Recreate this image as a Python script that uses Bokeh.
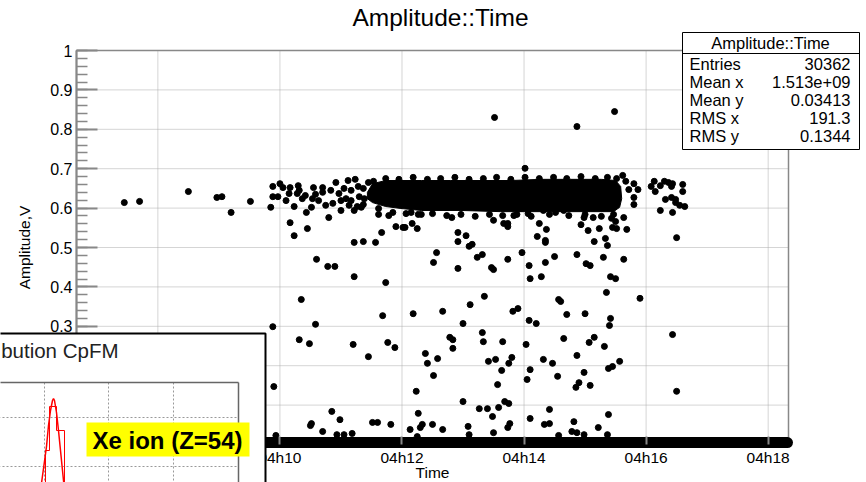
import pandas as pd
from bokeh.plotting import figure
from bokeh.models import (Range1d, FixedTicker, DatetimeTickFormatter, CustomJSTickFormatter,
                          BoxAnnotation, PolyAnnotation, Label)
from bokeh.embed import file_html
from bokeh.resources import INLINE

DATE = "2017-12-11"

# ---------------- data ----------------
x_start, x_end = "04:06:40", "04:18:20"
y_start, y_end = 0.0, 1.0
x_tick_times = ["04:08:00", "04:10:00", "04:12:00", "04:14:00", "04:16:00", "04:18:00"]
y_ticks = [0, 0.1, 0.2, 0.3, 0.4, 0.5, 0.6, 0.7, 0.8, 0.9, 1.0]

# individual events (time, amplitude in V)
pt_time = [
    "04:07:27", "04:07:42", "04:08:30", "04:08:58", "04:09:03", "04:09:12", "04:09:31",
    "04:09:53", "04:09:53", "04:09:51", "04:10:00", "04:10:03", "04:09:58", "04:10:10",
    "04:10:09", "04:10:18", "04:10:17", "04:10:14", "04:10:10", "04:10:14", "04:10:26",
    "04:10:27", "04:10:22", "04:10:25", "04:10:31", "04:10:33", "04:10:35", "04:10:36",
    "04:10:42", "04:10:42", "04:10:47", "04:10:54", "04:10:48", "04:10:52", "04:10:55",
    "04:11:00", "04:11:03", "04:11:07", "04:11:08", "04:11:14", "04:11:13", "04:11:13",
    "04:11:17", "04:11:13", "04:11:20", "04:11:22", "04:11:23", "04:11:27", "04:11:34",
    "04:11:37", "04:11:40", "04:11:44", "04:11:47", "04:11:54", "04:12:01", "04:12:03",
    "04:12:10", "04:12:15", "04:12:16", "04:12:09", "04:12:31", "04:12:34", "04:12:49",
    "04:12:55", "04:12:55", "04:12:55", "04:13:03", "04:13:06", "04:13:09", "04:13:14",
    "04:13:19", "04:13:21", "04:13:28", "04:13:30", "04:13:30", "04:13:44", "04:13:44",
    "04:13:57", "04:13:58", "04:14:01", "04:14:04", "04:14:05", "04:14:06", "04:14:15",
    "04:14:17", "04:14:13", "04:14:21", "04:14:22", "04:14:21", "04:14:30", "04:14:34",
    "04:13:31", "04:14:52", "04:15:29",
    "04:15:37", "04:15:40", "04:15:43", "04:15:48", "04:15:52", "04:15:48", "04:15:48",
    "04:15:38", "04:15:41",
    "04:16:05", "04:16:08", "04:16:14", "04:16:09", "04:16:18", "04:16:22", "04:16:25",
    "04:16:26", "04:16:36", "04:16:36", "04:16:19", "04:16:25", "04:16:29", "04:16:29",
    "04:16:33", "04:16:38", "04:16:14", "04:16:26", "04:16:30",
    "04:13:40", "04:13:44", "04:14:21", "04:14:56", "04:15:03", "04:15:09", "04:15:14",
    "04:15:20", "04:15:22", "04:15:26", "04:15:30", "04:15:27", "04:15:31", "04:14:59",
    "04:15:08", "04:13:50", "04:14:19", "04:14:31", "04:14:39",
    "04:14:52", "04:15:18", "04:15:01", "04:15:05", "04:15:38", "04:15:25", "04:15:30",
    "04:15:21", "04:15:54", "04:14:36", "04:14:42", "04:15:00", "04:15:25", "04:15:24",
    "04:16:26", "04:14:39", "04:15:09", "04:15:04", "04:15:19", "04:14:52", "04:15:34",
    "04:15:23", "04:15:27", "04:14:59", "04:14:54", "04:15:05", "04:14:51", "04:16:30",
    "04:15:23", "04:14:49", "04:15:13", "04:14:47", "04:14:52", "04:14:59", "04:15:22",
    "04:14:19", "04:14:28", "04:14:33", "04:14:25", "04:14:20", "04:14:25", "04:14:34",
    "04:09:53", "04:10:21", "04:10:35", "04:10:19", "04:10:29", "04:11:12", "04:11:41",
    "04:11:46", "04:11:53", "04:11:27", "04:09:54", "04:10:51", "04:10:59", "04:10:30",
    "04:10:31", "04:10:42", "04:10:56", "04:11:03", "04:11:11", "04:11:31", "04:11:36",
    "04:11:49", "04:09:56", "04:12:11", "04:12:40", "04:12:23", "04:12:25", "04:12:35",
    "04:12:31", "04:12:14", "04:12:16", "04:12:18", "04:12:20", "04:12:08", "04:12:30",
    "04:12:40", "04:12:15", "04:12:47", "04:12:50", "04:12:50", "04:13:00", "04:13:07",
    "04:13:00", "04:13:05", "04:13:06", "04:13:19", "04:13:20", "04:13:25", "04:13:32",
    "04:13:38", "04:13:39", "04:13:45", "04:13:48", "04:13:34", "04:13:41", "04:13:45",
    "04:13:16", "04:13:24", "04:13:35", "04:13:29", "04:13:30", "04:13:44", "04:13:46",
    "04:13:49", "04:13:54", "04:14:02", "04:14:05", "04:14:12", "04:14:06", "04:14:03",
    "04:14:06",
    "04:10:38", "04:10:45", "04:10:58", "04:11:05", "04:11:10", "04:11:18", "04:11:22",
    "04:11:00", "04:10:50", "04:10:32", "04:10:19", "04:10:06", "04:11:10", "04:11:16",
    "04:11:22",
    # edge of the dense band
    "04:11:32", "04:11:44", "04:11:57", "04:12:11", "04:12:25", "04:12:38", "04:12:52",
    "04:13:06", "04:13:20", "04:13:33", "04:13:47", "04:14:01", "04:14:15", "04:14:29",
    "04:14:42", "04:14:56", "04:15:10", "04:15:22", "04:15:31",
    "04:11:37", "04:11:51", "04:12:04", "04:12:19", "04:12:30", "04:12:44", "04:12:58",
    "04:13:12", "04:13:26", "04:13:39", "04:13:53", "04:14:07", "04:14:25", "04:14:44",
    "04:15:00", "04:15:16", "04:15:28",
]
pt_amp = [
    0.614, 0.617, 0.642, 0.627, 0.629, 0.589, 0.617,
    0.655, 0.629, 0.602, 0.662, 0.652, 0.629, 0.652,
    0.637, 0.657, 0.637, 0.604, 0.563, 0.530, 0.589,
    0.548, 0.624, 0.632, 0.602, 0.652, 0.635, 0.470,
    0.652, 0.640, 0.452, 0.452, 0.576, 0.612, 0.665,
    0.619, 0.650, 0.670, 0.607, 0.673, 0.513, 0.426,
    0.655, 0.594, 0.602, 0.515, 0.624, 0.665, 0.513,
    0.584, 0.538, 0.411, 0.581, 0.553, 0.551, 0.551,
    0.561, 0.548, 0.584, 0.589, 0.462, 0.487, 0.576,
    0.538, 0.515, 0.447, 0.530, 0.503, 0.508, 0.475,
    0.482, 0.376, 0.449, 0.444, 0.569, 0.470, 0.561,
    0.599, 0.487, 0.701, 0.586, 0.454, 0.421, 0.561,
    0.426, 0.528, 0.518, 0.546, 0.462, 0.477, 0.368,
    0.830, 0.807, 0.845,
    0.683, 0.668, 0.647, 0.662, 0.647, 0.627, 0.609,
    0.576, 0.546,
    0.655, 0.668, 0.657, 0.642, 0.668, 0.665, 0.655,
    0.662, 0.660, 0.642, 0.622, 0.627, 0.622, 0.614,
    0.607, 0.604, 0.594, 0.589, 0.525,
    0.561, 0.553, 0.513, 0.558, 0.543, 0.515, 0.548,
    0.523, 0.505, 0.574, 0.566, 0.551, 0.548, 0.576,
    0.576, 0.581, 0.594, 0.589, 0.594,
    0.482, 0.475, 0.459, 0.454, 0.470, 0.426, 0.421,
    0.386, 0.371, 0.363, 0.330, 0.332, 0.320, 0.302,
    0.279, 0.269, 0.272, 0.259, 0.249, 0.226, 0.211,
    0.193, 0.198, 0.183, 0.157, 0.150, 0.145, 0.135,
    0.076, 0.058, 0.043, 0.033, 0.030, 0.025, 0.025,
    0.216, 0.206, 0.173, 0.089, 0.051, 0.053, 0.023,
    0.299, 0.368, 0.305, 0.266, 0.256, 0.254, 0.327,
    0.259, 0.246, 0.223, 0.147, 0.084, 0.063, 0.048,
    0.053, 0.033, 0.025, 0.025, 0.028, 0.056, 0.056,
    0.051, 0.023, 0.332, 0.338, 0.231, 0.206, 0.218,
    0.175, 0.135, 0.079, 0.043, 0.051, 0.038, 0.051,
    0.038, 0.020, 0.272, 0.266, 0.244, 0.307, 0.355,
    0.109, 0.046, 0.025, 0.284, 0.261, 0.211, 0.216,
    0.188, 0.261, 0.206, 0.221, 0.152, 0.109, 0.104,
    0.091, 0.091, 0.094, 0.071, 0.030, 0.043, 0.053,
    0.338, 0.345, 0.254, 0.315, 0.307, 0.190, 0.165,
    0.066,
    0.619, 0.607, 0.637, 0.624, 0.645, 0.629, 0.650,
    0.594, 0.645, 0.624, 0.645, 0.619, 0.619, 0.604,
    0.609,
    0.668, 0.675, 0.673, 0.678, 0.673, 0.675, 0.678,
    0.673, 0.675, 0.678, 0.673, 0.678, 0.675, 0.678,
    0.675, 0.680, 0.675, 0.678, 0.675,
    0.599, 0.589, 0.586, 0.584, 0.586, 0.581, 0.584,
    0.579, 0.584, 0.581, 0.584, 0.579, 0.584, 0.581,
    0.584, 0.579, 0.584,
]

# outline of the saturated (overlapping) cluster of events
dense_time = [
    "04:11:26", "04:11:31", "04:11:44", "04:11:59", "04:12:19", "04:12:48", "04:13:18",
    "04:13:47", "04:14:17", "04:14:46", "04:15:16", "04:15:30", "04:15:35", "04:15:36",
    "04:15:34", "04:15:28", "04:14:56", "04:14:17", "04:13:37", "04:12:58", "04:12:19",
    "04:11:59", "04:11:44", "04:11:31", "04:11:26",
]
dense_amp = [
    0.640, 0.662, 0.670, 0.670, 0.670, 0.670, 0.670,
    0.670, 0.673, 0.673, 0.673, 0.670, 0.655, 0.624,
    0.602, 0.591, 0.591, 0.591, 0.591, 0.594, 0.594,
    0.599, 0.604, 0.614, 0.624,
]

# the ~30000 events at zero amplitude form a continuous band
zero_time = ["04:06:42", "04:18:19"]
zero_amp = [0.005, 0.005]

stats_title = "Amplitude::Time"
stats_labels = ["Entries", "Mean x", "Mean y", "RMS x", "RMS y"]
stats_values = ["30362", "1.513e+09", "0.03413", "191.3", "0.1344"]

# ---------------- layout (pixels) ----------------
W, H = 866, 482
FR_L, FR_R, FR_T, FR_B = 76, 788, 50, 444      # the histogram frame inside the canvas
FONT = "Liberation Sans"


def ms(hms):
    return pd.Timestamp(DATE + " " + hms).value / 1e6


x0, x1 = ms(x_start), ms(x_end)
sx_per_px = (x1 - x0) / (FR_R - FR_L)
sy_per_px = (y_end - y_start) / (FR_B - FR_T)

p = figure(width=W, height=H, x_axis_type="datetime", title=None,
           x_range=Range1d(x0 - FR_L * sx_per_px, x1 + (W - FR_R) * sx_per_px),
           y_range=Range1d(y_start - (H - FR_B) * sy_per_px, y_end + FR_T * sy_per_px),
           output_backend="svg", toolbar_location=None,
           min_border=0, min_border_left=0, min_border_right=0,
           min_border_top=0, min_border_bottom=0)
p.background_fill_color = "white"
p.border_fill_color = "white"
p.outline_line_color = None
p.xgrid.visible = False
p.ygrid.visible = False

x_ticks_ms = [ms(t) for t in x_tick_times]
x_ticker = FixedTicker(ticks=x_ticks_ms)
y_minor = [round(i * 0.02, 2) for i in range(51)]
y_ticker = FixedTicker(ticks=y_ticks, minor_ticks=y_minor)

fmt = "%Hh%M"
xa, ya = p.xaxis[0], p.yaxis[0]
xa.ticker = x_ticker
xa.formatter = DatetimeTickFormatter(seconds=fmt, minsec=fmt, minutes=fmt, hourmin=fmt, hours=fmt)
ya.ticker = y_ticker
ya.formatter = CustomJSTickFormatter(code="return String(Number(tick.toFixed(2)));")
xa.fixed_location = y_start
ya.fixed_location = x0
xa.bounds = (x0, x1)
ya.bounds = (y_start, y_end)

for ax in (xa, ya):
    ax.axis_line_color = "#888888"
    ax.axis_line_width = 2
    ax.major_tick_line_color = "#888888"
    ax.major_tick_line_width = 2
    ax.minor_tick_line_color = "#888888"
    ax.minor_tick_line_width = 1.5
    ax.major_label_text_font = FONT
    ax.major_label_text_color = "black"
    ax.axis_label_text_font = FONT
    ax.axis_label_text_font_size = "15.5px"
    ax.axis_label_text_font_style = "normal"
    ax.axis_label_text_color = "black"

ya.major_label_text_font_size = "16px"
ya.major_tick_in = 21
ya.major_tick_out = 0
ya.minor_tick_in = 11
ya.minor_tick_out = 0
ya.major_label_standoff = 4
ya.axis_label = "Amplitude,V"
ya.axis_label_standoff = 14

xa.axis_line_color = None
xa.major_label_text_font_size = "15.5px"
xa.major_tick_in = 8
xa.major_tick_out = 0
xa.minor_tick_line_color = None
xa.major_label_standoff = 4

# ---------------- grid + frame ----------------
grid_y = [t for t in y_ticks if y_start < t < y_end]
p.segment(x0=x_ticks_ms, y0=[y_start] * len(x_ticks_ms), x1=x_ticks_ms, y1=[y_end] * len(x_ticks_ms),
          line_color="#aaaaaa", line_dash="1 1", line_width=1)
p.segment(x0=[x0] * len(grid_y), y0=grid_y, x1=[x1] * len(grid_y), y1=grid_y,
          line_color="#aaaaaa", line_dash="1 1", line_width=1)
p.quad(left=[x0], right=[x1], bottom=[y_start], top=[y_end], fill_color=None,
       line_color="#888888", line_width=1.5)

# ---------------- data marks ----------------
p.patch([ms(t) for t in dense_time], dense_amp, color="black")
p.line([ms(t) for t in zero_time], zero_amp, line_width=11, line_cap="round", color="black")
p.scatter([ms(t) for t in pt_time], pt_amp, size=6, color="black")


# ---------------- annotations (pixel positions from the canvas top-left) ----------------
def sy(y):
    return H - y


def label(x, y, text, size="16.5px", align="left", baseline="middle", style="normal", color="black"):
    p.add_layout(Label(x=x, y=sy(y), x_units="screen", y_units="screen", text=text,
                       text_font=FONT, text_font_size=size, text_align=align,
                       text_baseline=baseline, text_font_style=style, text_color=color))


def poly(xs, ys, color="black", width=1.0, dash="solid"):
    p.add_layout(PolyAnnotation(xs=xs, ys=[sy(v) for v in ys], xs_units="screen", ys_units="screen",
                                fill_alpha=0, fill_color=None, line_color=color,
                                line_width=width, line_dash=dash, line_alpha=1))


def box(l, r, t, b, fill, line_color=None, line_width=1.0):
    p.add_layout(BoxAnnotation(left=l, right=r, top=sy(t), bottom=sy(b),
                               left_units="screen", right_units="screen",
                               top_units="screen", bottom_units="screen",
                               fill_color=fill, fill_alpha=1,
                               line_color=line_color, line_width=line_width,
                               line_alpha=1, line_dash="solid"))


# title and x-axis title
label(440, 17, "Amplitude::Time", size="24.5px", align="center")
label(432, 472, "Time", size="15.5px", align="center")

# statistics box
box(682, 859, 32, 149, "white", "black", 1)
poly([682, 859], [53, 53], "black", 1)
label(770, 42, stats_title, align="center")
row_y = [63, 81, 99, 117, 135]
for yy, lab, val in zip(row_y, stats_labels, stats_values):
    label(689, yy, lab, align="left")
    label(850, yy, val, align="right")

# pasted inset (charge distribution picture) in the lower-left corner
box(-10, 265, 333, 492, "white", "black", 2)
label(118, 350, "bution CpFM", size="20.5px", align="right", color="#222222")
for gx in (44, 108, 173):
    poly([gx, gx], [382, 492], "#999999", 1, "2 2")
for gy in (417, 466):
    poly([-10, 238], [gy, gy], "#999999", 1, "2 2")
poly([-10, 238], [382, 382], "#666666", 1.5)
poly([238, 238], [382, 492], "#666666", 1.5)
inset_fit_x = [40, 43, 46, 48, 50, 52, 53, 54, 56, 58, 60, 62, 64]
inset_fit_y = [490, 468, 446, 425, 410, 400, 398, 400, 412, 430, 450, 470, 490]
inset_hist_x = [45, 45, 49, 49, 56, 56, 64, 64]
inset_hist_y = [490, 450, 450, 406, 406, 430, 430, 490]
poly(inset_fit_x, inset_fit_y, "red", 1.5)
poly(inset_hist_x, inset_hist_y, "red", 1)
box(86, 249, 422, 456, "#ffff00", None, 0)
label(167, 440, "Xe ion (Z=54)", size="24px", align="center", style="bold")

open("out.html", "w").write(file_html(p, INLINE))
